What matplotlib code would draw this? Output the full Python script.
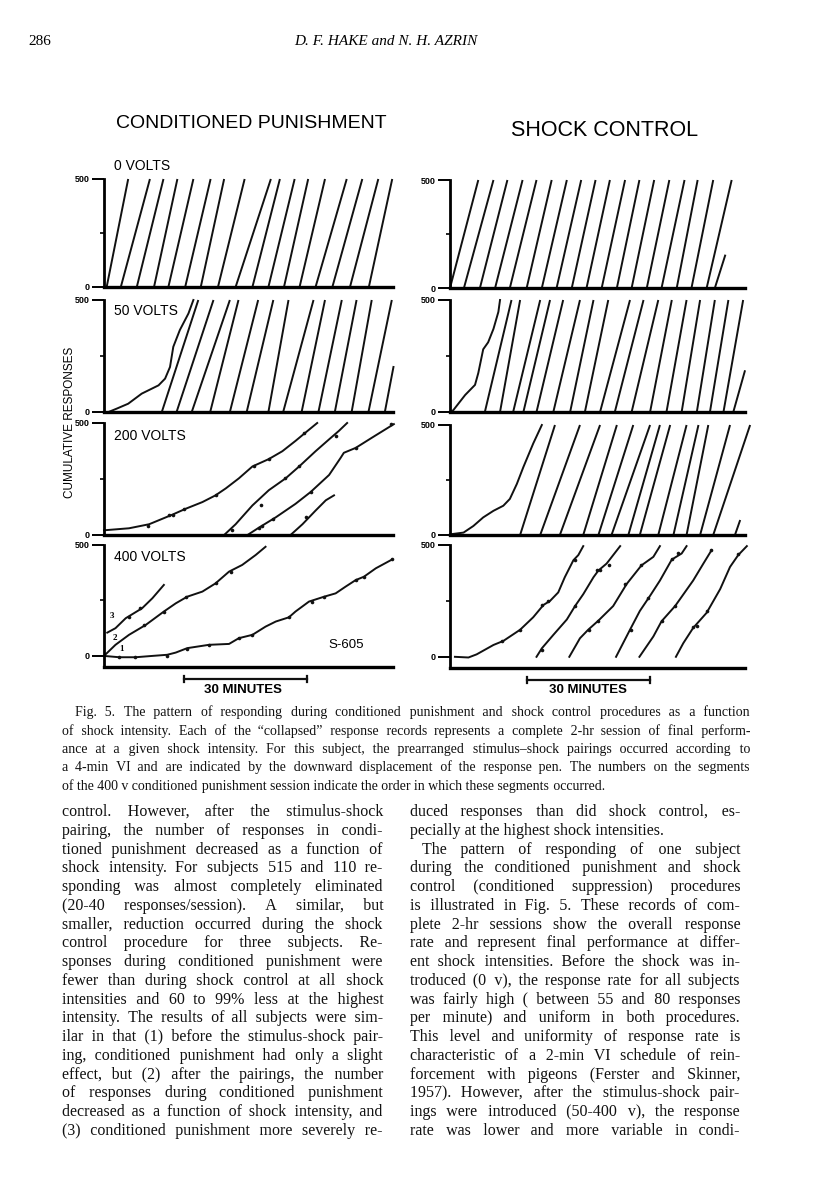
import matplotlib
matplotlib.use("Agg")
import matplotlib.pyplot as plt
from matplotlib.font_manager import FontProperties

# --- cumulative records, x in minutes, y in cumulative responses ---
# conditioned punishment, 0 v: pen resets, straight runs from 0 to 500
cp0_start = [0.65, 4.1, 8.0, 12.2, 15.7, 19.8, 23.6, 27.8, 32.1, 36.2, 40.1, 43.9, 47.7, 51.6, 55.7, 60.0, 64.6]
cp0_end = [5.9, 11.2, 14.5, 17.9, 21.8, 26.0, 29.3, 34.3, 40.7, 42.9, 46.5, 49.8, 53.9, 59.2, 63.0, 66.9, 70.3]

# shock control, 0 v
sc0_start = [0.0, 3.4, 7.3, 11.0, 14.6, 18.7, 22.4, 26.0, 29.7, 33.3, 37.0, 40.7, 44.3, 48.0, 51.6, 55.3, 58.9, 62.6]
sc0_end = [6.9, 10.6, 14.0, 17.7, 21.1, 24.8, 28.5, 32.0, 35.5, 39.0, 42.7, 46.2, 49.8, 53.5, 57.2, 60.4, 64.2, 68.7]
sc0_tail_x = [64.6, 67.1]
sc0_tail_y = [0, 150]

# conditioned punishment, 50 v
cp50_first_x = [1.1, 3.1, 5.9, 9.2, 13.3, 14.9, 16.1, 16.9, 18.5, 20.6, 21.8]
cp50_first_y = [0, 15, 37, 82, 119, 149, 201, 291, 366, 440, 500]
cp50_start = [14.1, 17.7, 21.4, 25.9, 30.7, 34.8, 40.1, 43.7, 48.2, 52.3, 56.3, 60.4, 64.5]
cp50_end = [23.0, 26.7, 30.7, 32.8, 37.6, 41.3, 45.0, 51.1, 53.9, 58.0, 61.6, 65.3, 70.2]
cp50_tail_x = [68.5, 70.6]
cp50_tail_y = [0, 201]

# shock control, 50 v
sc50_first_x = [0.0, 0.8, 3.7, 6.1, 6.9, 8.1, 9.3, 10.6, 11.8, 12.2]
sc50_first_y = [0, 8, 76, 121, 174, 280, 311, 371, 447, 500]
sc50_start = [8.5, 12.2, 15.4, 17.9, 21.1, 25.2, 29.3, 32.9, 36.6, 40.2, 44.3, 48.8, 52.8, 56.5, 60.2, 63.4, 66.7]
sc50_end = [15.0, 17.1, 22.0, 24.4, 27.6, 31.7, 35.0, 38.6, 43.9, 47.2, 50.8, 54.1, 57.7, 61.0, 64.6, 67.9, 71.5]
sc50_tail_x = [69.1, 71.9]
sc50_tail_y = [0, 182]

# conditioned punishment, 200 v (four segments)
cp200_a_x = [0, 6.1, 11.0, 16.7, 19.9, 24.0, 27.2, 29.7, 32.9, 36.2, 40.2, 43.5, 46.7, 49.2, 52.0]
cp200_a_y = [21, 30, 48, 91, 117, 147, 177, 208, 253, 306, 339, 374, 420, 458, 500]
cp200_b_x = [29.3, 32.1, 36.2, 40.2, 44.3, 47.6, 51.6, 54.9, 57.3, 59.3]
cp200_b_y = [0, 48, 132, 200, 253, 306, 374, 427, 465, 500]
cp200_c_x = [35.0, 37.8, 41.9, 46.7, 50.4, 54.9, 57.7, 58.5, 61.4, 65.4, 70.7]
cp200_c_y = [0, 33, 79, 139, 192, 268, 344, 367, 389, 435, 495]
cp200_d_x = [45.5, 48.4, 51.6, 54.1, 56.1]
cp200_d_y = [0, 48, 109, 155, 177]
# stimulus-shock pairings (pen displacements)
cp200_pip_x = [10.8, 15.9, 16.8, 19.5, 27.2, 36.6, 40.2, 48.8, 31.3, 38.2, 44.1, 47.6, 56.5,
               37.8, 38.6, 41.1, 50.4, 61.4, 69.9, 49.2]
cp200_pip_y = [41, 89, 91, 114, 177, 306, 339, 455, 21, 132, 253, 306, 442,
               33, 41, 71, 192, 389, 495, 79]

# shock control, 200 v
sc200_first_x = [0, 3.3, 5.7, 8.1, 10.6, 13.0, 14.6, 16.3, 17.9, 20.3, 22.4]
sc200_first_y = [3, 11, 41, 80, 110, 133, 164, 232, 309, 416, 500]
sc200_start = [17.1, 22.0, 26.8, 32.5, 36.2, 39.4, 43.5, 46.3, 50.8, 54.5, 57.7, 61.0, 64.2]
sc200_end = [25.6, 31.7, 36.6, 40.7, 44.7, 48.8, 51.2, 53.7, 57.7, 60.6, 63.0, 68.3, 73.2]
sc200_tail_x = [69.5, 70.7]
sc200_tail_y = [0, 64]

# conditioned punishment, 400 v (segments numbered in order of occurrence)
cp400_1_x = [0, 3.7, 7.7, 11.8, 15.4, 17.5, 20.3, 25.6, 30.5, 32.9, 36.2, 39.4, 41.9, 45.1, 46.7,
             50.0, 53.7, 56.5, 58.9, 61.4, 63.4, 66.3, 70.3]
cp400_1_y = [0, -6, -6, 0, 5, 15, 35, 50, 54, 80, 95, 132, 155, 174, 200,
             245, 267, 282, 312, 342, 357, 395, 435]
cp400_2_x = [0, 2.8, 6.1, 10.2, 14.6, 17.5, 20.3, 24.0, 27.2, 30.5, 33.7, 37.0, 39.4]
cp400_2_y = [0, 50, 95, 140, 200, 237, 267, 290, 327, 380, 410, 455, 492]
cp400_3_x = [0.8, 2.8, 5.3, 9.3, 11.8, 14.6]
cp400_3_y = [105, 125, 170, 215, 260, 320]
cp400_pip_x = [3.7, 7.6, 15.4, 20.3, 25.6, 32.9, 36.2, 45.1, 50.8, 53.7, 61.4, 63.4, 70.3,
               9.8, 14.6, 19.9, 27.2, 30.9, 6.1, 8.9]
cp400_pip_y = [-6, -6, 0, 30, 50, 80, 95, 174, 245, 267, 342, 357, 435,
               140, 200, 267, 327, 380, 174, 215]
cp400_labels = ["1", "2", "3"]
cp400_label_x = [4.3, 2.7, 2.0]
cp400_label_y = [30, 80, 180]

# shock control, 400 v
sc400_1_x = [1.2, 4.5, 6.5, 10.6, 13.0, 17.1, 20.3, 22.8, 24.4, 26.4, 28.0, 30.1, 31.3, 32.5]
sc400_1_y = [0, -3, 11, 53, 71, 121, 177, 232, 250, 288, 356, 432, 455, 495]
sc400_2_x = [21.1, 22.4, 25.2, 28.5, 30.5, 32.5, 35.0, 36.2, 38.2, 41.5]
sc400_2_y = [0, 38, 98, 167, 227, 280, 356, 386, 417, 495]
sc400_3_x = [29.1, 31.7, 33.7, 36.2, 39.8, 43.1, 46.7, 49.6, 51.2]
sc400_3_y = [0, 83, 121, 162, 227, 326, 409, 447, 495]
sc400_4_x = [40.5, 43.9, 46.3, 48.8, 51.2, 54.1, 56.5, 57.7]
sc400_4_y = [0, 121, 205, 273, 341, 435, 462, 495]
sc400_5_x = [46.2, 49.6, 51.6, 54.9, 56.1, 59.3, 61.8, 63.8]
sc400_5_y = [0, 91, 159, 227, 258, 341, 417, 477]
sc400_6_x = [55.1, 56.9, 59.3, 62.6, 65.9, 68.3, 70.3, 72.4]
sc400_6_y = [0, 61, 129, 197, 303, 402, 455, 495]
sc400_pip_x = [12.6, 17.1, 22.4, 24.0, 30.5, 22.4, 30.5, 35.8, 36.6, 38.8, 33.9, 36.2, 42.7, 46.7,
               44.1, 48.4, 54.1, 55.7, 51.6, 54.9, 63.6, 59.2, 60.2, 62.6, 70.3]
sc400_pip_y = [71, 121, 232, 250, 432, 30, 227, 386, 389, 412, 118, 162, 326, 409,
               121, 265, 439, 464, 159, 227, 477, 132, 136, 205, 459]

scale_minutes = 30
cp_scale_start = 19.5
sc_scale_start = 18.8

caption = [
    "Fig. 5. The pattern of responding during conditioned punishment and shock control procedures as a function",
    "of shock intensity. Each of the \u201ccollapsed\u201d response records represents a complete 2-hr session of final perform-",
    "ance at a given shock intensity. For this subject, the prearranged stimulus\u2013shock pairings occurred according to",
    "a 4-min VI and are indicated by the downward displacement of the response pen. The numbers on the segments",
    "of the 400 v conditioned punishment session indicate the order in which these segments occurred.",
]
left_col = [
    "control. However, after the stimulus-shock",
    "pairing, the number of responses in condi-",
    "tioned punishment decreased as a function of",
    "shock intensity. For subjects 515 and 110 re-",
    "sponding was almost completely eliminated",
    "(20-40 responses/session). A similar, but",
    "smaller, reduction occurred during the shock",
    "control procedure for three subjects. Re-",
    "sponses during conditioned punishment were",
    "fewer than during shock control at all shock",
    "intensities and 60 to 99% less at the highest",
    "intensity. The results of all subjects were sim-",
    "ilar in that (1) before the stimulus-shock pair-",
    "ing, conditioned punishment had only a slight",
    "effect, but (2) after the pairings, the number",
    "of responses during conditioned punishment",
    "decreased as a function of shock intensity, and",
    "(3) conditioned punishment more severely re-",
]
right_col = [
    "duced responses than did shock control, es-",
    "pecially at the highest shock intensities.",
    "The pattern of responding of one subject",
    "during the conditioned punishment and shock",
    "control (conditioned suppression) procedures",
    "is illustrated in Fig. 5. These records of com-",
    "plete 2-hr sessions show the overall response",
    "rate and represent final performance at differ-",
    "ent shock intensities. Before the shock was in-",
    "troduced (0 v), the response rate for all subjects",
    "was fairly high ( between 55 and 80 responses",
    "per minute) and uniform in both procedures.",
    "This level and uniformity of response rate is",
    "characteristic of a 2-min VI schedule of rein-",
    "forcement with pigeons (Ferster and Skinner,",
    "1957). However, after the stimulus-shock pair-",
    "ings were introduced (50-400 v), the response",
    "rate was lower and more variable in condi-",
]

W, H, DPI = 816, 1200, 100
PX_PER_MIN = 123 / 30
INK = "#111111"
SANS = ["Liberation Sans", "DejaVu Sans"]
SERIF = ["Liberation Serif", "DejaVu Serif"]

fig = plt.figure(figsize=(W / DPI, H / DPI), dpi=DPI)
fig.patch.set_facecolor("white")


def panel(x0, x1, top, bot, ymin=0):
    ax = fig.add_axes([x0 / W, 1 - bot / H, (x1 - x0) / W, (bot - top) / H])
    ax.set_xlim(0, (x1 - x0) / PX_PER_MIN)
    ax.set_ylim(ymin, 500)
    ax.patch.set_alpha(0)
    ax.spines["top"].set_visible(False)
    ax.spines["right"].set_visible(False)
    ax.spines["left"].set_linewidth(2.0)
    ax.spines["bottom"].set_linewidth(2.4)
    ax.set_xticks([])
    ax.set_yticks([0, 500])
    ax.set_yticklabels(["0", "500"], family=SANS, fontweight="bold")
    ax.set_yticks([250], minor=True)
    ax.tick_params(axis="y", which="major", length=9, width=1.4, pad=1, labelsize=6.5)
    ax.tick_params(axis="y", which="minor", length=3, width=1.2)
    return ax


def ramps(ax, starts, ends):
    for s, e in zip(starts, ends):
        ax.plot([s, e], [0, 500], color=INK, lw=1.4, clip_on=False, solid_capstyle="butt")


def curve(ax, xs, ys):
    ax.plot(xs, ys, color=INK, lw=1.4, clip_on=False)


def pips(ax, xs, ys):
    # downward displacement of the response pen
    ax.plot(xs, ys, ls="none", marker="o", ms=2.6, mew=0, color=INK, clip_on=False)


def scale_bar(ax, start):
    ax.plot([start, start + scale_minutes], [-104, -104], color=INK, lw=1.6, clip_on=False)
    for x in (start, start + scale_minutes):
        ax.plot([x, x], [-90, -118], color=INK, lw=1.6, clip_on=False)


L0, L1, R0, R1 = 104, 393, 450, 745

a = panel(L0, L1, 179, 287)
ramps(a, cp0_start, cp0_end)
a = panel(R0, R1, 180, 288)
ramps(a, sc0_start, sc0_end)
curve(a, sc0_tail_x, sc0_tail_y)

a = panel(L0, L1, 300, 412)
curve(a, cp50_first_x, cp50_first_y)
ramps(a, cp50_start, cp50_end)
curve(a, cp50_tail_x, cp50_tail_y)
a = panel(R0, R1, 300, 412)
curve(a, sc50_first_x, sc50_first_y)
ramps(a, sc50_start, sc50_end)
curve(a, sc50_tail_x, sc50_tail_y)

a = panel(L0, L1, 423, 535)
for xs, ys in [(cp200_a_x, cp200_a_y), (cp200_b_x, cp200_b_y), (cp200_c_x, cp200_c_y), (cp200_d_x, cp200_d_y)]:
    curve(a, xs, ys)
pips(a, cp200_pip_x, cp200_pip_y)
a = panel(R0, R1, 425, 535)
curve(a, sc200_first_x, sc200_first_y)
ramps(a, sc200_start, sc200_end)
curve(a, sc200_tail_x, sc200_tail_y)

a = panel(L0, L1, 545, 667, ymin=-50)
for xs, ys in [(cp400_1_x, cp400_1_y), (cp400_2_x, cp400_2_y), (cp400_3_x, cp400_3_y)]:
    curve(a, xs, ys)
pips(a, cp400_pip_x, cp400_pip_y)
for t, x, y in zip(cp400_labels, cp400_label_x, cp400_label_y):
    a.text(x, y, t, fontsize=6.5, fontweight="bold", family=SERIF, ha="center", va="center")
a.text(0.9, 0.18, "S-605", transform=a.transAxes, fontsize=9.5, family=SANS, ha="right", va="center")
scale_bar(a, cp_scale_start)
a = panel(R0, R1, 545, 668, ymin=-50)
for xs, ys in [(sc400_1_x, sc400_1_y), (sc400_2_x, sc400_2_y), (sc400_3_x, sc400_3_y),
               (sc400_4_x, sc400_4_y), (sc400_5_x, sc400_5_y), (sc400_6_x, sc400_6_y)]:
    curve(a, xs, ys)
pips(a, sc400_pip_x, sc400_pip_y)
scale_bar(a, sc_scale_start)


def ftext(x, y, s, **kw):
    return fig.text(x / W, 1 - y / H, s, **kw)


# panel labels and titles
for y, s in [(166, "0 VOLTS"), (311, "50 VOLTS"), (436, "200 VOLTS"), (557, "400 VOLTS")]:
    ftext(114, y, s, fontsize=10, family=SANS, va="center")
ftext(251, 123, "CONDITIONED PUNISHMENT", fontsize=14, family=SANS, ha="center", va="center")
ftext(605, 130, "SHOCK CONTROL", fontsize=15.5, family=SANS, ha="center", va="center")
ftext(70, 422, "CUMULATIVE RESPONSES", fontsize=8.5, family=SANS, rotation=90, ha="center", va="center")
ftext(243, 690, "30 MINUTES", fontsize=9.5, fontweight="bold", family=SANS, ha="center", va="center")
ftext(588, 690, "30 MINUTES", fontsize=9.5, fontweight="bold", family=SANS, ha="center", va="center")

# running head
ftext(28, 45, "286", fontsize=11, family=SERIF, va="baseline")
ftext(386, 45, "D. F. HAKE and N. H. AZRIN", fontsize=11, family=SERIF, style="italic",
      ha="center", va="baseline")

renderer = fig.canvas.get_renderer()
HAIR = "\u200a"


def width_of(s, size):
    fp = FontProperties(family=SERIF, size=size)
    return renderer.get_text_width_height_descent(s, fp, ismath=False)[0]


def set_line(line, x0, x1, y, size, justify=True, indent=0):
    # one Text per line (common baseline); word gaps are built from hair spaces
    words = line.split()
    while True:
        widths = [width_of(w, size) for w in words]
        space = width_of("x x", size) - width_of("xx", size)
        room = x1 - x0 - indent - sum(widths)
        if len(words) < 2 or room / (len(words) - 1) >= 0.6 * space or size < 7:
            break
        size -= 0.2
    hair = (width_of("x" + HAIR * 20 + "x", size) - width_of("xx", size)) / 20
    if hair <= 0.2:
        ftext(x0 + indent, y, line, fontsize=size, family=SERIF, va="baseline", color=INK)
        return
    gap = space
    if justify and len(words) > 1:
        gap = room / (len(words) - 1)
    s, pos = words[0], widths[0]
    for i in range(1, len(words)):
        target = sum(widths[:i]) + i * gap
        k = max(1, round((target - pos) / hair))
        s += HAIR * k + words[i]
        pos += k * hair + widths[i]
    ftext(x0 + indent, y, s, fontsize=size, family=SERIF, va="baseline", color=INK)


for i, line in enumerate(caption):
    set_line(line, 62, 750, 716 + i * 18.5, 10.0, justify=i < len(caption) - 1, indent=13 if i == 0 else 0)

for i, line in enumerate(left_col):
    set_line(line, 62, 383, 816 + i * 18.76, 11.5)

for i, line in enumerate(right_col):
    set_line(line, 410, 740, 816 + i * 18.76, 11.5, justify=i != 1, indent=12 if i == 2 else 0)

fig.savefig("out.png", dpi=DPI, facecolor="white")
